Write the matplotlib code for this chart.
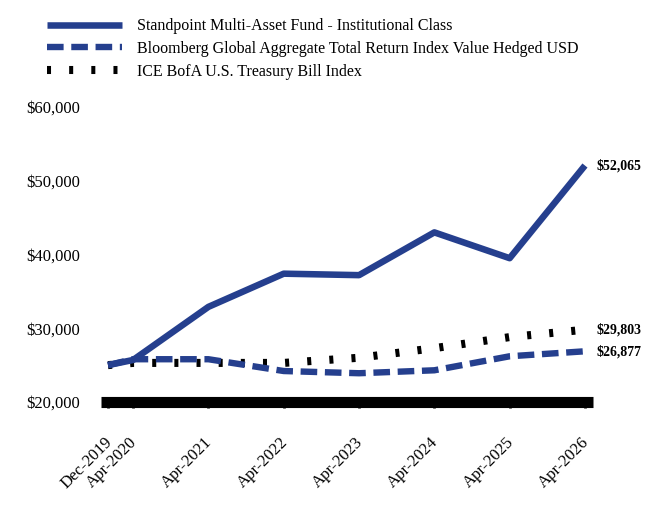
import matplotlib.pyplot as plt
from matplotlib.ticker import FuncFormatter
from matplotlib.transforms import ScaledTranslation

plt.rcParams['font.family'] = ['Liberation Serif', 'DejaVu Serif']

# years since Dec-2019
x = [0, 4/12, 16/12, 28/12, 40/12, 52/12, 64/12, 76/12]
tick_labels = ['Dec-2019', 'Apr-2020', 'Apr-2021', 'Apr-2022', 'Apr-2023',
               'Apr-2024', 'Apr-2025', 'Apr-2026']

fund = [25000, 25700, 32900, 37400, 37200, 43000, 39500, 52065]
bbg = [25000, 25800, 25800, 24200, 23900, 24300, 26200, 26877]
ice = [25000, 25300, 25300, 25300, 26000, 27300, 28800, 29803]

names = ['Standpoint Multi-Asset Fund - Institutional Class',
         'Bloomberg Global Aggregate Total Return Index Value Hedged USD',
         'ICE BofA U.S. Treasury Bill Index']
end_labels = ['$52,065', '$29,803', '$26,877']

blue = '#253f8e'

fig = plt.figure(figsize=(6.72, 5.28), dpi=100)
ax = fig.add_axes([101/672, 1 - 402/528, (593-101)/672, (402-107)/528])

ax.plot(x, ice, color='black', lw=5.8, linestyle=(0, (0.5, 2.25)), label=names[2], zorder=2)
ax.plot(x, bbg, color=blue, lw=4.6, linestyle=(0, (2.6, 1.2)), label=names[1], zorder=3)
ax.plot(x, fund, color=blue, lw=4.7, solid_capstyle='butt', label=names[0], zorder=4)

ax.set_ylim(20000, 60000)
ax.set_xlim(-0.093, 6.44)
ax.set_yticks([20000, 30000, 40000, 50000, 60000])
ax.yaxis.set_major_formatter(FuncFormatter(lambda v, p: '${:,.0f}'.format(v)))
ax.set_xticks(x)
ax.set_xticklabels(tick_labels, rotation=45, ha='right', rotation_mode='anchor')
ax.tick_params(axis='y', length=0, labelsize=12, pad=15)
ax.tick_params(axis='x', length=4, width=2, labelsize=12, pad=19)
shift = ScaledTranslation(-4/100, 0, fig.dpi_scale_trans)
for t in ax.get_xticklabels():
    t.set_transform(t.get_transform() + shift)

for s in ['top', 'right', 'left']:
    ax.spines[s].set_visible(False)
ax.spines['bottom'].set_linewidth(8)
ax.spines['bottom'].set_capstyle('butt')

for val, lab in zip([fund[-1], ice[-1], bbg[-1]], end_labels):
    ax.text(6.49, val, lab, fontsize=10, fontweight='bold', va='center', ha='left')

h, l = ax.get_legend_handles_labels()
fig.legend(h[::-1], l[::-1], loc='upper left', bbox_to_anchor=(33/672, 1 - 4/528),
           frameon=False, fontsize=11.5, handlelength=4.7, labelspacing=0.42,
           handletextpad=0.9)

fig.savefig('out.png', dpi=100)
